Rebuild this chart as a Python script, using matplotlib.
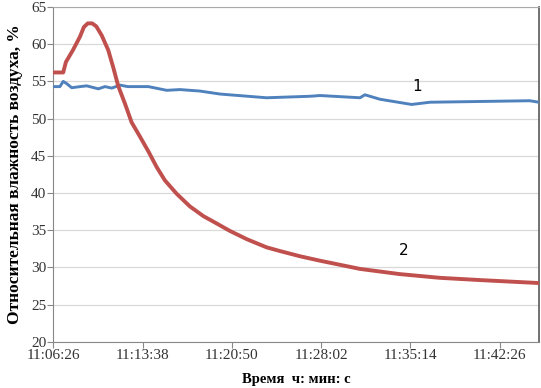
import numpy as np
import matplotlib.pyplot as plt

# time offsets from 11:06:26, seconds
t_red = [0, 48, 61, 95, 129, 148, 167, 188, 208, 234, 266, 290, 314, 347, 379,
         419, 460, 500, 540, 597, 661, 726, 791, 855, 936, 1032, 1097, 1194,
         1291, 1484, 1677, 1871, 2064, 2350]
rh_red = [56.2, 56.2, 57.6, 59.2, 61.0, 62.3, 62.8, 62.8, 62.4, 61.2, 59.2, 56.9,
          54.4, 52.0, 49.5, 47.6, 45.6, 43.5, 41.7, 39.9, 38.2, 36.9, 35.9, 34.9,
          33.8, 32.7, 32.2, 31.5, 30.9, 29.8, 29.1, 28.6, 28.3, 27.9]

t_blue = [0, 32, 48, 65, 89, 130, 162, 190, 218, 250, 283, 323, 360, 419, 460,
          549, 613, 710, 807, 1032, 1242, 1291, 1484, 1508, 1581, 1734, 1823,
          2064, 2306, 2350]
rh_blue = [54.3, 54.3, 55.0, 54.7, 54.15, 54.3, 54.4, 54.2, 54.0, 54.3, 54.1, 54.5,
           54.3, 54.3, 54.3, 53.8, 53.9, 53.7, 53.3, 52.8, 53.0, 53.1, 52.8, 53.2,
           52.6, 51.9, 52.2, 52.3, 52.4, 52.2]

tick_sec = [0, 432, 864, 1296, 1728, 2160]
tick_labels = ["11:06:26", "11:13:38", "11:20:50", "11:28:02", "11:35:14", "11:42:26"]

fig = plt.figure(figsize=(5.41, 3.88), dpi=100)
ax = fig.add_axes([0.0985, 0.119, 0.898, 0.863])

ax.plot(t_blue, rh_blue, color="#4F81BD", lw=2.1, zorder=3, solid_joinstyle="round")
ax.plot(t_red, rh_red, color="#C0504D", lw=2.8, zorder=3, solid_joinstyle="round")

ax.text(1759, 54.3, "1", fontsize=11, family="DejaVu Sans", ha="center", va="center")
ax.text(1697, 32.3, "2", fontsize=11, family="DejaVu Sans", ha="center", va="center")

ax.set_xlim(0, 2351)
ax.set_ylim(20, 65)
ax.set_yticks(range(20, 66, 5))
ax.set_xticks(tick_sec)
ax.set_xticklabels(tick_labels)
ax.grid(axis="y", color="#D9D9D9", lw=0.9)
ax.set_axisbelow(True)

for lbl in ax.get_xticklabels() + ax.get_yticklabels():
    lbl.set_family("Liberation Serif")
    lbl.set_fontsize(11)
    lbl.set_color("#333333")
ax.tick_params(axis="both", length=4, color="#888888", width=0.8, pad=1)

for s in ["left", "bottom"]:
    ax.spines[s].set_color("#888888")
ax.spines["right"].set_color("#666666")
ax.spines["right"].set_linewidth(1.3)
ax.spines["top"].set_color("#AAAAAA")

ax.set_xlabel("Время  ч: мин: с", family="Liberation Serif", fontweight="bold",
              fontsize=10.5, labelpad=8)
ax.set_ylabel("Относительная влажность воздуха, %", family="Liberation Serif",
              fontweight="bold", fontsize=12.5, labelpad=6)

fig.savefig("out.png", dpi=100)
